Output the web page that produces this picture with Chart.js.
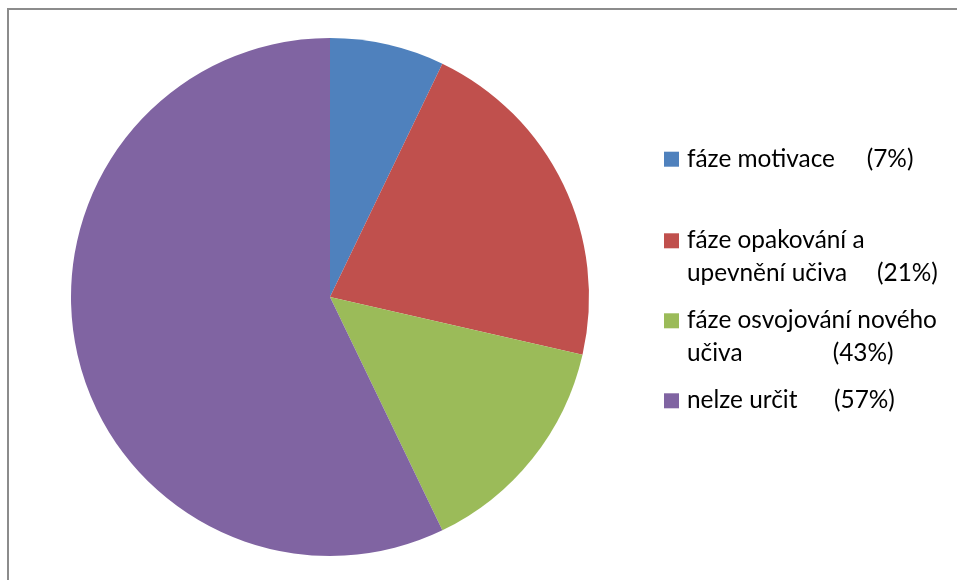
<!DOCTYPE html>
<html>
<head>
<meta charset="utf-8">
<script src="https://cdn.jsdelivr.net/npm/chart.js@4"></script>
<style>
  html, body { margin: 0; padding: 0; background: #fff; }
  #wrap { width: 957px; height: 580px; }
</style>
</head>
<body>
<div id="wrap"><canvas id="myChart" width="957" height="580"></canvas></div>
<script>
// categories, one entry per legend line
var categories = [
    ['fáze motivace'],
    ['fáze opakování a', 'upevnění učiva'],
    ['fáze osvojování nového', 'učiva'],
    ['nelze určit']
];
var shares = ['(7%)', '(21%)', '(43%)', '(57%)'];
// number of answers in each category
var counts = [1, 3, 2, 8];
var colors = ['#4F81BD', '#C0504D', '#9BBB59', '#8064A2'];

// legend layout: baseline of first line, x of the share text
var legendX = 664;
var textX = 687;
var lineGap = 32.5;
var rowBaselines = [166.7, 248.3, 328.3, 408.3];
var shareX = [866.7, 877, 832.7, 834];

var frame = {
    id: 'frame',
    beforeDraw: function(chart) {
        var c = chart.ctx;
        c.save();
        c.fillStyle = '#fff';
        c.fillRect(0, 0, chart.width, chart.height);
        c.strokeStyle = '#8c8c8c';
        c.lineWidth = 2;
        c.strokeRect(8, 9, 1200, 1200);
        c.restore();
    }
};

var sideLegend = {
    id: 'sideLegend',
    afterDraw: function(chart) {
        var c = chart.ctx;
        c.save();
        c.font = '24.4px Lato';
        c.fillStyle = '#000';
        c.textBaseline = 'alphabetic';
        for (var i = 0; i < categories.length; i++) {
            var base = rowBaselines[i];
            c.fillStyle = colors[i];
            c.fillRect(legendX, base - 15, 15, 15);
            c.fillStyle = '#000';
            var lines = categories[i];
            for (var j = 0; j < lines.length; j++) {
                c.fillText(lines[j], textX, base + j * lineGap);
            }
            c.fillText(shares[i], shareX[i], base + (lines.length - 1) * lineGap);
        }
        c.restore();
    }
};

var ctx = document.getElementById('myChart').getContext('2d');
var myChart = new Chart(ctx, {
    type: 'pie',
    data: {
        labels: categories.map(function(l) { return l.join(' '); }),
        datasets: [{
            data: counts,
            backgroundColor: colors,
            borderWidth: 0
        }]
    },
    options: {
        responsive: false,
        animation: false,
        layout: { padding: { left: 71, right: 368, top: 38, bottom: 24 } },
        plugins: {
            legend: { display: false },
            tooltip: { enabled: false }
        }
    },
    plugins: [frame, sideLegend]
});
</script>
</body>
</html>
